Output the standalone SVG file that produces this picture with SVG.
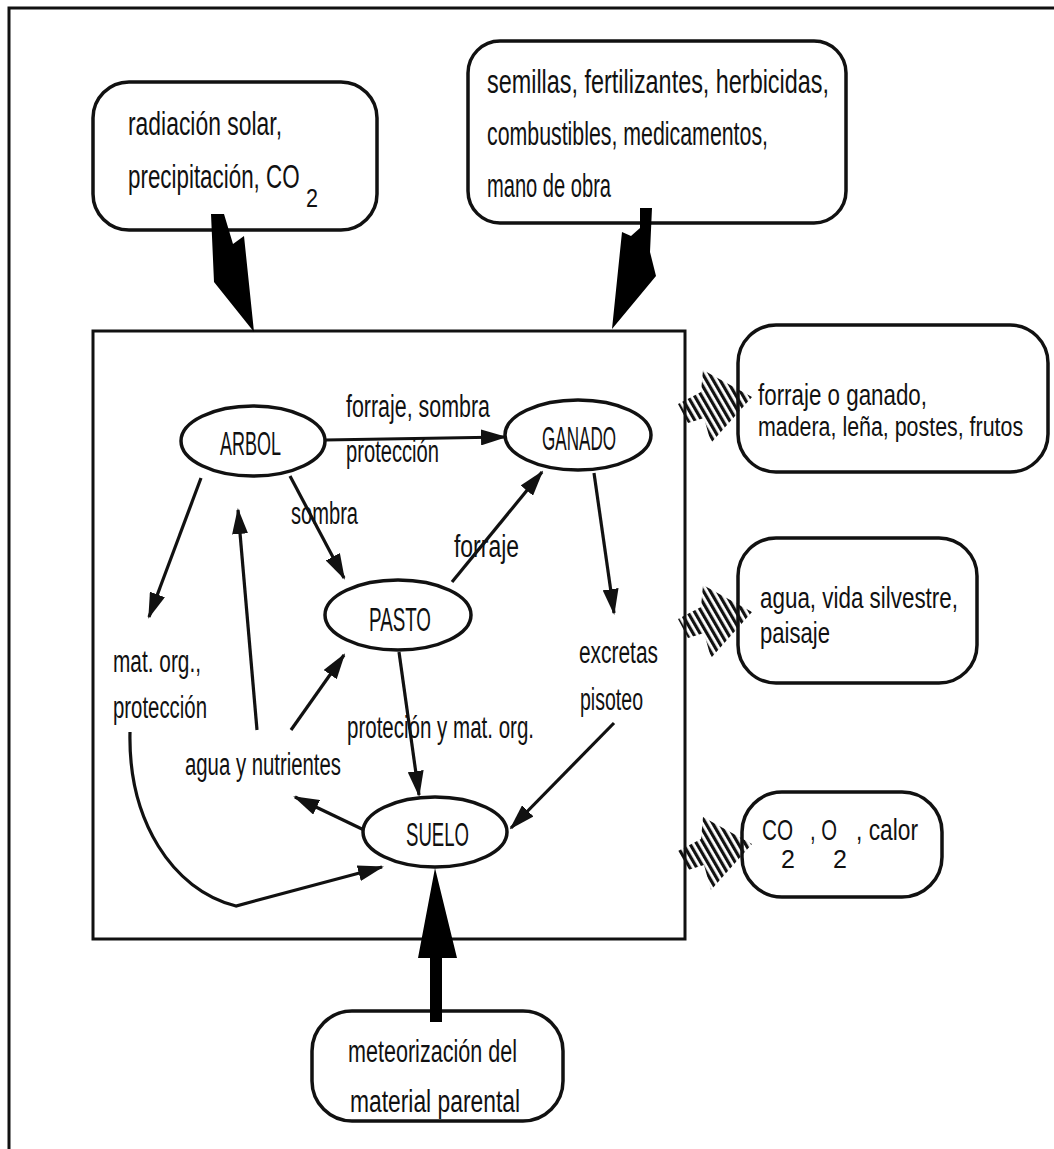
<svg xmlns="http://www.w3.org/2000/svg" width="1054" height="1149" viewBox="0 0 1054 1149">
<defs>
<style>
.t{font-family:"Liberation Sans",Arial,sans-serif;fill:#111;}
.box{fill:#fff;stroke:#111;stroke-width:3.5;}
.node{fill:#fff;stroke:#111;stroke-width:3.5;}
.con{fill:none;stroke:#111;stroke-width:3.2;}
.big{fill:#000;}
.hat{fill:url(#hatch);}
</style>
<marker id="ah" markerUnits="userSpaceOnUse" markerWidth="26" markerHeight="16" viewBox="0 0 26 16" refX="24" refY="8" orient="auto">
<path d="M0,0 L26,8 L0,16 z" fill="#111"/>
</marker>
<pattern id="hatch" width="6" height="10" patternUnits="userSpaceOnUse" patternTransform="rotate(-30)">
<rect x="0" y="0" width="3.2" height="10" fill="#111"/>
</pattern>
</defs>
<rect x="0" y="0" width="1054" height="1149" fill="#fff"/>
<!-- outer frame -->
<path d="M9,1149 L9,8 L1054,8" fill="none" stroke="#111" stroke-width="3"/>

<!-- main box -->
<g id="system">
<rect x="93" y="331" width="592" height="608" fill="none" stroke="#111" stroke-width="3"/>
</g>

<g id="inputs-natural">
<rect class="box" x="93" y="82" width="284" height="148" rx="36" ry="36"/>
<text class="t" x="128" y="135" font-size="33" textLength="154" lengthAdjust="spacingAndGlyphs">radiación  solar,</text>
<text class="t" transform="translate(128,188) scale(0.66,1)" x="0" y="0" font-size="33" textLength="260" lengthAdjust="spacingAndGlyphs">precipitación,  CO</text>
<text class="t" x="306" y="207" font-size="26" textLength="12" lengthAdjust="spacingAndGlyphs">2</text>
</g>

<g id="inputs-human">
<rect class="box" x="468" y="41" width="378" height="182" rx="32" ry="32"/>
<text class="t" x="487" y="93" font-size="33" textLength="342" lengthAdjust="spacingAndGlyphs">semillas,  fertilizantes,  herbicidas,</text>
<text class="t" x="487" y="145" font-size="33" textLength="281" lengthAdjust="spacingAndGlyphs">combustibles,  medicamentos,</text>
<text class="t" x="487" y="197" font-size="33" textLength="124" lengthAdjust="spacingAndGlyphs">mano de obra</text>
</g>

<g id="output-products">
<rect class="box" x="738" y="325" width="310" height="147" rx="38" ry="38"/>
<text class="t" x="758" y="405" font-size="29" textLength="169" lengthAdjust="spacingAndGlyphs">forraje o ganado,</text>
<text class="t" transform="translate(758,436) scale(0.764,1)" x="0" y="0" font-size="28" textLength="347" lengthAdjust="spacingAndGlyphs">madera, leña, postes, frutos</text>
</g>

<g id="output-environment">
<rect class="box" x="738" y="538" width="239" height="145" rx="38" ry="38"/>
<text class="t" x="760" y="608" font-size="29" textLength="198" lengthAdjust="spacingAndGlyphs">agua, vida silvestre,</text>
<text class="t" x="760" y="643" font-size="29" textLength="70" lengthAdjust="spacingAndGlyphs">paisaje</text>
</g>

<g id="output-gases">
<rect class="box" x="742" y="792" width="200" height="105" rx="40" ry="40"/>
<text class="t" x="762" y="840" font-size="29"><tspan textLength="31" lengthAdjust="spacingAndGlyphs">CO</tspan><tspan x="781" y="868" font-size="25">2</tspan><tspan x="810" y="840" textLength="27" lengthAdjust="spacingAndGlyphs">, O</tspan><tspan x="833" y="868" font-size="25">2</tspan><tspan x="856" y="840" textLength="62" lengthAdjust="spacingAndGlyphs">, calor</tspan></text>
</g>

<g id="input-parent-material">
<rect class="box" x="312" y="1011" width="251" height="110" rx="40" ry="40"/>
<text class="t" x="348" y="1062" font-size="31" textLength="169" lengthAdjust="spacingAndGlyphs">meteorización del</text>
<text class="t" x="350" y="1112" font-size="31" textLength="170" lengthAdjust="spacingAndGlyphs">material  parental</text>
</g>

<g id="ARBOL">
<ellipse class="node" cx="253" cy="441" rx="72" ry="35"/>
<text class="t" x="220" y="455" font-size="34" textLength="61" lengthAdjust="spacingAndGlyphs">ARBOL</text>
</g>
<g id="GANADO">
<ellipse class="node" cx="578" cy="435" rx="73" ry="35"/>
<text class="t" x="542" y="450" font-size="34" textLength="74" lengthAdjust="spacingAndGlyphs">GANADO</text>
</g>
<g id="PASTO">
<ellipse class="node" cx="398" cy="615" rx="73" ry="35"/>
<text class="t" x="369" y="631" font-size="34" textLength="62" lengthAdjust="spacingAndGlyphs">PASTO</text>
</g>
<g id="SUELO">
<ellipse class="node" cx="435" cy="832" rx="72" ry="35"/>
<text class="t" x="406" y="846" font-size="34" textLength="63" lengthAdjust="spacingAndGlyphs">SUELO</text>
</g>

<g id="connectors">
<path class="con" d="M325,440 L505,437" marker-end="url(#ah)"/>
<path class="con" d="M290,476 L344,578" marker-end="url(#ah)"/>
<path class="con" d="M452,582 L542,472" marker-end="url(#ah)"/>
<path class="con" d="M201,478 L149,617" marker-end="url(#ah)"/>
<path class="con" d="M257,730 L238,510" marker-end="url(#ah)"/>
<path class="con" d="M594,473 L614,613" marker-end="url(#ah)"/>
<path class="con" d="M614,723 L511,828" marker-end="url(#ah)"/>
<path class="con" d="M399,652 L419,795" marker-end="url(#ah)"/>
<path class="con" d="M291,730 L344,655" marker-end="url(#ah)"/>
<path class="con" d="M364,830 L295,797" marker-end="url(#ah)"/>
<path class="con" d="M130,732 C128,820 172,890 236,906 L382,867" marker-end="url(#ah)"/>
<polygon class="big" points="211,214 224,214 233,244 244,236 254,332 214,282"/>
<polygon class="big" points="640,208 652,208 650,252 656,276 612,329 622,232 631,236 640,228"/>
<polygon class="big" points="435,868 457,958 442,958 442,1022 430,1022 430,958 418,958"/>
<polygon class="hat" points="703,370 752,397 711,443 704,418 688,423 678,404 701,392"/>
<polygon class="hat" points="703,585 752,612 711,658 704,633 688,638 678,619 701,607"/>
<polygon class="hat" points="703,817 752,844 711,890 704,865 688,870 678,851 701,839"/>
</g>

<g id="labels">
<text class="t" x="346" y="417" font-size="31" textLength="144" lengthAdjust="spacingAndGlyphs">forraje,  sombra</text>
<text class="t" x="346" y="462" font-size="31" textLength="93" lengthAdjust="spacingAndGlyphs">protección</text>
<text class="t" x="291" y="524" font-size="31" textLength="67" lengthAdjust="spacingAndGlyphs">sombra</text>
<text class="t" x="454" y="557" font-size="31" textLength="65" lengthAdjust="spacingAndGlyphs">forraje</text>
<text class="t" x="113" y="672" font-size="31" textLength="88" lengthAdjust="spacingAndGlyphs">mat.  org.,</text>
<text class="t" x="113" y="718" font-size="31" textLength="94" lengthAdjust="spacingAndGlyphs">protección</text>
<text class="t" x="579" y="663" font-size="31" textLength="79" lengthAdjust="spacingAndGlyphs">excretas</text>
<text class="t" x="580" y="710" font-size="31" textLength="63" lengthAdjust="spacingAndGlyphs">pisoteo</text>
<text class="t" x="347" y="738" font-size="31" textLength="187" lengthAdjust="spacingAndGlyphs">proteción y mat. org.</text>
<text class="t" x="185" y="775" font-size="31" textLength="156" lengthAdjust="spacingAndGlyphs">agua  y  nutrientes</text>
</g>
</svg>
